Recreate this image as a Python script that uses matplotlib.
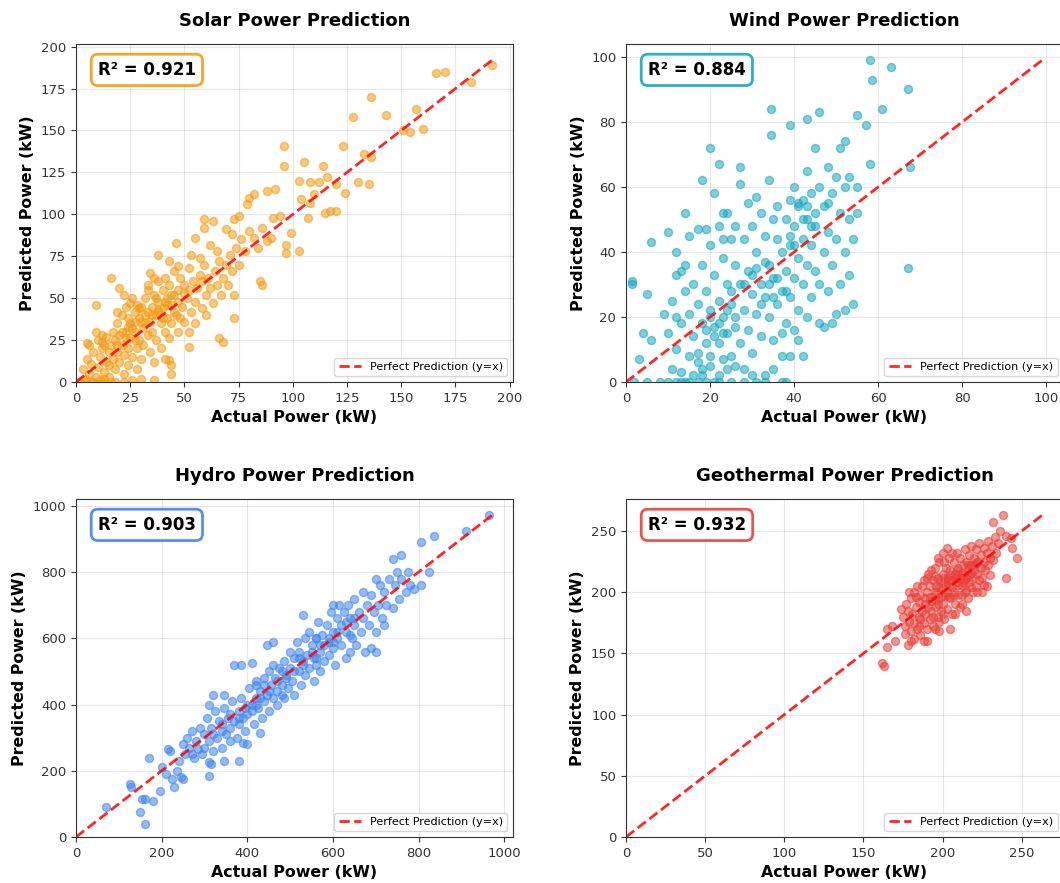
import matplotlib
matplotlib.use("Agg")
from matplotlib import pyplot as plt

# solar: actual / predicted (kW)
solar_actual = [192, 166, 170, 182, 136, 128, 143, 157, 160, 151, 154, 96, 123, 96, 105, 114, 136, 133,
                130, 135, 124, 103, 108, 112, 116, 120, 117, 120, 115, 107, 104, 108, 110, 92, 88, 99,
                97, 103, 97, 94, 91, 90, 82, 80, 79, 85, 86, 73, 75, 72, 69, 59, 59, 62, 65, 46,
                53, 57, 38, 43, 16, 9, 47, 73, 66, 68, 52, 44, 43, 36, 5, 12,
                3, 4, 5, 6, 6, 7, 8, 8, 9, 10, 10, 11, 12, 12, 13, 14, 14, 15, 15, 2, 4, 7, 11, 13,
                16, 18, 22, 26, 30, 9, 12,
                16, 17, 17, 18, 18, 19, 19, 20, 20, 21, 21, 22, 22, 23, 23, 24, 24, 25, 25, 26, 26,
                27, 27, 28, 28, 29, 29, 30, 30, 20, 22, 25,
                31, 31, 32, 32, 33, 33, 34, 34, 35, 35, 36, 36, 37, 37, 38, 38, 39, 39, 40, 40, 41,
                41, 42, 42, 43, 43, 44, 44, 45, 45, 34, 36, 41, 44,
                46, 47, 47, 48, 49, 50, 50, 51, 52, 52, 53, 54, 55, 55, 56, 57, 58, 59, 60, 60, 61,
                62, 63, 64, 65, 66, 67, 68, 69, 70, 71, 72, 73, 74, 75, 76, 78, 80, 82, 84, 86, 88,
                63, 55, 24, 28, 33, 38, 27, 19,
                21, 24, 27, 29, 32, 35, 37, 40, 42, 44, 47, 50, 26, 23, 19, 15, 13, 33, 38, 41,
                45, 48, 52, 58, 30]
solar_pred = [189, 184, 185, 179, 170, 158, 159, 163, 151, 150, 149, 141, 141, 129, 131, 129, 134, 136,
              119, 118, 113, 120, 119, 119, 122, 118, 102, 102, 101, 98, 109, 107, 112, 115, 114, 89,
              77, 78, 82, 99, 98, 86, 112, 110, 106, 60, 58, 97, 99, 88, 91, 97, 92, 82, 78, 83,
              76, 74, 76, 72, 62, 46, 69, 38, 26, 24, 21, 10, 13, 1, 23, 28,
              8, 2, 14, 22, 5, 11, 18, 0, 3, 25, 9, 15, 20, 0, 6, 27, 12, 18, 3, 0, 0, 0, 1, 2,
              0, 0, 0, 1, 2, 30, 24,
              22, 14, 30, 8, 25, 35, 18, 12, 28, 22, 40, 5, 16, 30, 45, 20, 10, 35, 26, 15, 50,
              30, 42, 20, 8, 38, 25, 45, 14, 56, 52, 47,
              32, 22, 50, 40, 28, 55, 36, 18, 45, 30, 52, 12, 40, 25, 60, 48, 35, 20, 55, 44, 30,
              62, 50, 38, 58, 26, 46, 35, 52, 66, 65, 62, 14, 5,
              40, 55, 30, 62, 45, 58, 36, 50, 68, 30, 42, 60, 48, 35, 56, 64, 44, 70, 52, 40, 62,
              56, 47, 66, 58, 72, 52, 62, 70, 58, 76, 66, 52, 80, 70, 85, 78, 90, 86, 80, 92, 84,
              96, 86, 33, 46, 58, 43, 36, 42,
              30, 38, 25, 44, 35, 40, 50, 38, 46, 52, 48, 53, 32, 26, 22, 10, 22, 42, 42, 48,
              42, 38, 55, 60, 36]

# wind
wind_actual = [58, 58.5, 63, 67, 61, 57, 58, 67.5, 67, 55, 46, 43, 39, 34.5, 34.5, 52, 20, 22, 18,
               1.5, 1.5, 3, 5, 6, 10, 12, 9, 4, 6,
               2, 5, 8, 10, 12, 13, 14, 15, 17, 19, 21, 22, 25, 28, 31, 33, 37, 38,
               10, 11, 11, 12, 12, 13, 13, 14, 14, 14, 15, 15, 15, 16, 16, 16, 17, 17, 17, 18, 18,
               18, 19, 19, 20, 20, 20, 21, 21, 21, 22, 22, 22, 22, 23, 23, 23, 24, 24, 24, 25, 25,
               25, 26, 26, 26, 27, 27, 27, 28, 28, 28, 29, 29, 29, 30, 30, 30, 31, 31, 31, 32, 32,
               32, 33, 33, 33, 34, 34, 34, 35, 35, 35, 36, 36, 36, 37, 37, 37, 38, 38, 38, 39, 39,
               39, 40, 40, 40, 40, 41, 41, 41, 42, 42, 42, 42, 43, 43, 43, 44, 44, 44, 45, 45, 45,
               46, 46, 46, 47, 47, 48, 48, 48, 49, 49, 49, 50, 50, 51, 51, 51, 52, 52, 52, 53, 53,
               54, 54, 53, 55, 55, 50, 47, 43, 41, 39, 37, 35, 30, 26, 24, 23, 20, 18, 17, 27, 23,
               19, 13, 12,
               20, 22, 24, 21, 25, 28, 30, 32, 34, 36, 38, 40, 42, 43, 44, 41, 23, 19, 26, 31,
               33, 35, 39, 45, 48]
wind_pred = [99, 93, 97, 90, 84, 79, 67, 66, 35, 82, 83, 81, 79, 84, 76, 74, 72, 67, 62,
             31, 30, 7, 27, 43, 46, 40, 21, 15, 13,
             0, 0, 0, 0, 0, 0, 0, 0, 0, 0, 0, 0, 0, 0, 0, 0, 0, 0,
             15, 4, 25, 33, 10, 18, 3, 28, 36, 52, 21, 8, 45, 30, 14, 2, 24, 47, 6, 36, 18,
             4, 28, 12, 42, 22, 8, 33, 17, 58, 48, 25, 12, 2, 38, 20, 44, 30, 15, 52, 44, 24,
             8, 36, 17, 48, 61, 30, 12, 44, 22, 4, 34, 55, 16, 48, 27, 9, 40, 21, 57, 52, 30,
             14, 45, 26, 2, 36, 62, 20, 50, 32, 13, 44, 24, 54, 28, 40, 8, 50, 34, 18, 56, 42,
             26, 48, 32, 60, 16, 54, 38, 22, 44, 56, 8, 30, 65, 50, 36, 58, 42, 26, 72, 48, 34,
             60, 30, 18, 54, 40, 66, 46, 28, 58, 36, 18, 63, 44, 72, 52, 30, 60, 40, 22, 50, 33,
             44, 24, 63, 60, 52, 21, 17, 20, 13, 8, 15, 4, 2, 5, 4, 7, 5, 2, 9, 66, 52,
             47, 34, 20,
             20, 18, 22, 14, 28, 30, 33, 24, 30, 32, 28, 42, 50, 54, 48, 55, 15, 16, 20, 35,
             37, 26, 45, 52, 55]

# hydro
hydro_actual = [965, 910, 835, 805, 825, 805, 790, 760, 740, 70, 125, 128, 150, 160, 155, 162, 180,
                170, 195, 220, 215, 230, 225, 235, 245, 250, 310, 310, 315, 345, 380, 400, 390,
                430, 310, 320, 345, 370, 385, 410, 445, 460, 720, 700, 690, 200, 210, 240, 250,
                270,
                255, 260, 265, 270, 275, 280, 285, 290, 295, 300, 300, 305, 310, 315, 320, 325,
                330, 335, 340, 340, 345, 350, 355, 360, 360, 365, 370, 375, 380, 380, 385, 390,
                395, 400, 400, 405, 410, 415, 420, 420, 425, 430, 435, 440, 440, 445, 450, 450,
                455, 460, 460, 465, 470, 470, 475, 480, 485, 485, 490, 495, 500, 500, 505, 510,
                510, 515, 520, 520, 525, 530, 535, 535, 540, 545, 545, 550, 555, 555, 560, 560,
                565, 570, 570, 575, 580, 580, 585, 590, 590, 595, 600, 600, 605, 610, 610, 615,
                620, 620, 625, 630, 630, 635, 640, 645, 650, 650, 655, 660, 665, 670, 670, 675,
                680, 685, 690, 695, 700, 700, 705, 710, 715, 720, 725, 730, 740, 745, 750, 755,
                760, 770, 775, 780, 530, 560, 640, 600, 480, 420,
                380, 395, 410, 430, 450, 470, 490, 510, 530, 550, 570, 590, 610, 630, 650, 360,
                340, 320, 440, 520, 560, 600, 640, 420, 480]
hydro_pred = [972, 925, 910, 890, 800, 760, 750, 850, 840, 90, 160, 150, 75, 40, 115, 115, 110,
              240, 140, 260, 265, 150, 175, 200, 180, 175, 185, 225, 220, 230, 230, 280, 285,
              315, 400, 430, 430, 520, 520, 525, 580, 590, 640, 560, 570, 210, 190, 230, 280,
              250,
              250, 300, 270, 320, 240, 290, 265, 330, 250, 310, 270, 360, 290, 330, 260, 380,
              300, 350, 320, 270, 390, 310, 360, 330, 290, 410, 350, 300, 380, 340, 420, 360,
              320, 400, 370, 450, 380, 340, 420, 470, 390, 440, 360, 480, 410, 430, 500, 380,
              460, 420, 520, 480, 440, 400, 510, 460, 530, 420, 490, 450, 560, 510, 470, 540,
              430, 590, 500, 560, 460, 530, 600, 490, 550, 510, 620, 580, 470, 540, 600, 520,
              650, 560, 500, 610, 580, 530, 640, 600, 550, 680, 620, 570, 520, 660, 600, 700,
              640, 580, 680, 620, 540, 700, 660, 600, 720, 640, 580, 680, 620, 740, 660, 560,
              700, 640, 730, 680, 780, 620, 700, 760, 660, 740, 700, 780, 690, 760, 800, 720,
              780, 740, 800, 760, 670, 600, 560, 700, 430, 460,
              360, 390, 400, 420, 440, 470, 480, 500, 520, 560, 580, 590, 620, 650, 660, 370,
              340, 310, 460, 540, 540, 590, 610, 400, 500]

# geothermal
geo_actual = [238, 232, 240, 243, 244, 247, 240, 228, 162, 163, 165, 170, 165, 168, 180, 178, 190,
              195, 198, 205, 215, 225,
              175, 176, 177, 178, 179, 180, 180, 181, 182, 182, 183, 184, 184, 185, 185, 186, 186,
              187, 188, 188, 189, 189, 190, 190, 191, 191, 192, 192, 193, 193, 194, 194, 195, 195,
              196, 196, 197, 197, 198, 198, 199, 199, 200, 200, 201, 201, 202, 202, 203, 203, 204,
              204, 205, 205, 206, 206, 207, 207, 208, 208, 209, 209, 210, 210, 211, 211, 212, 212,
              213, 213, 214, 214, 215, 215, 216, 216, 217, 217, 218, 218, 219, 219, 220, 220, 221,
              221, 222, 222, 223, 223, 224, 224, 225, 226, 226, 227, 228, 229, 229, 230, 231, 232,
              233, 234, 235, 236, 230, 208, 198, 188, 185, 182, 176, 174, 179, 183, 187, 190, 193,
              197, 200, 203, 206, 201, 195, 199, 204, 210, 212, 215, 218, 222, 226, 211, 200, 194,
              189, 186,
              196, 198, 200, 202, 204, 206, 208, 210, 212, 214, 216, 218, 220, 203, 199, 195, 192,
              205, 209, 213, 217, 221, 207, 201, 197]
geo_pred = [263, 257, 246, 244, 236, 228, 212, 205, 142, 140, 155, 160, 170, 172, 160, 157, 160,
            170, 168, 170, 185, 200,
            180, 172, 190, 185, 176, 195, 168, 182, 200, 175, 188, 170, 205, 192, 180, 165, 198,
            185, 210, 175, 195, 182, 200, 170, 188, 215, 178, 205, 193, 185, 210, 172, 198, 220,
            188, 205, 180, 212, 195, 225, 185, 202, 215, 190, 208, 178, 220, 198, 186, 212, 228,
            205, 195, 218, 182, 210, 225, 200, 215, 190, 232, 208, 220, 198, 212, 228, 205, 190,
            222, 215, 235, 200, 225, 212, 218, 195, 230, 208, 222, 238, 212, 200, 228, 218, 235,
            205, 225, 215, 240, 210, 230, 220, 212, 236, 225, 218, 232, 242, 222, 228, 238, 226,
            245, 232, 240, 250, 214, 182, 176, 160, 172, 162, 166, 186, 200, 196, 205, 212, 218,
            228, 232, 236, 232, 225, 213, 208, 196, 206, 198, 202, 204, 200, 206, 188, 182, 180,
            190, 178,
            200, 204, 198, 206, 210, 204, 212, 214, 216, 210, 222, 216, 222, 200, 196, 194, 196,
            214, 218, 208, 214, 224, 198, 212, 190]

titles = ["Solar Power Prediction", "Wind Power Prediction",
          "Hydro Power Prediction", "Geothermal Power Prediction"]
r2_scores = [0.921, 0.884, 0.903, 0.932]
colors = ["#F39C12", "#14A8BF", "#3F84EE", "#E8413A"]
actuals = [solar_actual, wind_actual, hydro_actual, geo_actual]
preds = [solar_pred, wind_pred, hydro_pred, geo_pred]

fig = plt.figure(figsize=(10.6, 8.83), dpi=100)
positions = [[0.0717, 0.5674, 0.4123, 0.3828], [0.5906, 0.5674, 0.4123, 0.3828],
             [0.0717, 0.0521, 0.4123, 0.3828], [0.5906, 0.0521, 0.4123, 0.3828]]

for i in range(4):
    ax = fig.add_axes(positions[i])
    act = actuals[i]
    pred = preds[i]
    ax.scatter(act, pred, s=34, color=colors[i], alpha=0.55)
    max_val = max(max(act), max(pred))
    ax.plot([0, max_val], [0, max_val], "--", color="red", lw=2, alpha=0.85,
            label="Perfect Prediction (y=x)")
    ax.set_xlim(0, max_val * 1.05)
    ax.set_ylim(0, max_val * 1.05)
    ax.set_title(titles[i], fontsize=13, fontweight="bold", pad=13)
    ax.set_xlabel("Actual Power (kW)", fontsize=11.4, fontweight="bold")
    ax.set_ylabel("Predicted Power (kW)", fontsize=11.4, fontweight="bold")
    ax.tick_params(labelsize=9.5, colors="#333333")
    for sp in ax.spines.values():
        sp.set_color("#333333")
    ax.grid(True, alpha=0.3)
    ax.legend(loc="lower right", fontsize=8)
    ax.text(0.05, 0.95, f"R² = {r2_scores[i]:.3f}", transform=ax.transAxes,
            fontsize=12, fontweight="bold", va="top",
            bbox=dict(boxstyle="round,pad=0.4", facecolor="white",
                      edgecolor=colors[i], linewidth=2, alpha=0.9))

fig.savefig("out.png", dpi=100)
